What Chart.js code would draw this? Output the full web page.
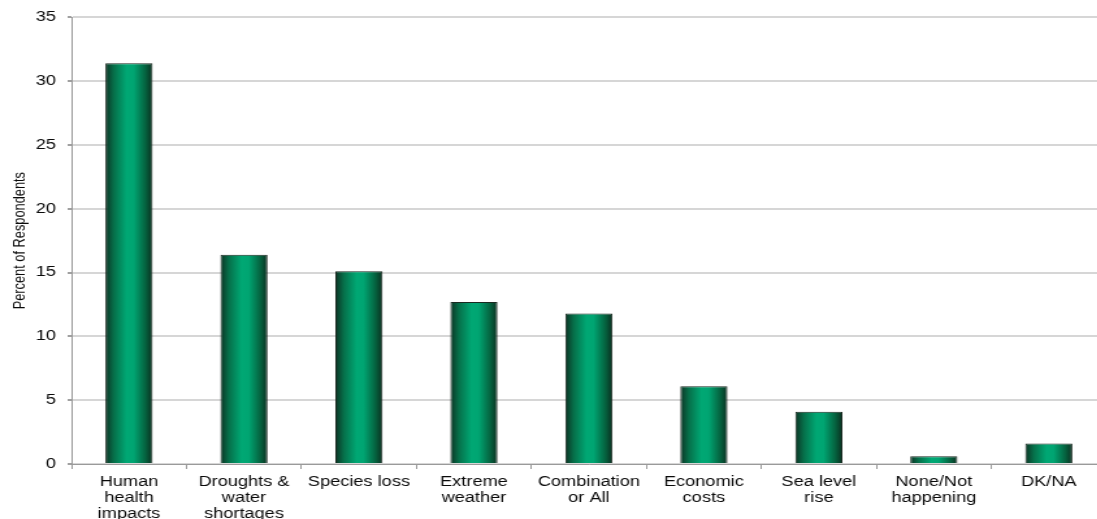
<!DOCTYPE html>
<html lang="en">
  <head>
    <meta charset="UTF-8" />
    <title>Most important impacts of climate change</title>
    <script src="https://cdn.jsdelivr.net/npm/chart.js@4.4.0/dist/chart.umd.min.js"></script>
    <style>
      html, body { margin: 0; padding: 0; background: #fff; overflow: hidden; }
      /* the chart is laid out narrower and widened to the page */
      #impactChart { transform: scaleX(1.3); transform-origin: 0 0; }
    </style>
  </head>
  <body>
<canvas id="impactChart" width="851" height="519"></canvas>

<script>
const categories = [
  ['Human', 'health', 'impacts'],
  ['Droughts &', 'water', 'shortages'],
  'Species loss',
  ['Extreme', 'weather'],
  ['Combination', 'or All'],
  ['Economic', 'costs'],
  ['Sea level', 'rise'],
  ['None/Not', 'happening'],
  'DK/NA'
];
const percents = [31.4, 16.4, 15.1, 12.7, 11.8, 6.1, 4.1, 0.6, 1.6];
const yTicks = [0, 5, 10, 15, 20, 25, 30, 35];

const BAR_PCT = 0.41;
const FONT = '"Liberation Sans", Arial, sans-serif';
const TEXT = '#0a0a0a';

// shaded cylinder look: dark edges, bright green middle
function barFill(context) {
  const chart = context.chart;
  const x = chart.scales && chart.scales.x;
  if (!x || context.dataIndex === undefined) return '#00a070';
  const centre = x.getPixelForValue(context.dataIndex);
  const half = (x.width / categories.length) * BAR_PCT / 2;
  if (!isFinite(centre) || !isFinite(half) || half <= 0) return '#00a070';
  const g = chart.ctx.createLinearGradient(centre - half, 0, centre + half, 0);
  g.addColorStop(0, '#0c3324');
  g.addColorStop(0.18, '#06704a');
  g.addColorStop(0.45, '#00a874');
  g.addColorStop(0.6, '#00a572');
  g.addColorStop(0.85, '#05623f');
  g.addColorStop(1, '#0b2f20');
  return g;
}

const ctx = document.getElementById('impactChart').getContext('2d');
const myChart = new Chart(ctx, {
  type: 'bar',
  data: {
    labels: categories,
    datasets: [{
      data: percents,
      backgroundColor: barFill,
      borderColor: '#1a2a21',
      borderWidth: 1,
      borderSkipped: 'bottom',
      barPercentage: BAR_PCT,
      categoryPercentage: 1
    }]
  },
  options: {
    responsive: false,
    animation: false,
    layout: { padding: { top: 17, right: 0, left: 0, bottom: 0 } },
    plugins: {
      legend: { display: false },
      tooltip: { enabled: false }
    },
    scales: {
      x: {
        offset: true,
        grid: {
          offset: true,
          drawOnChartArea: false,
          drawTicks: true,
          tickLength: 5,
          color: '#9a9a9a'
        },
        border: { color: '#9a9a9a', width: 1 },
        ticks: {
          autoSkip: false,
          maxRotation: 0,
          minRotation: 0,
          padding: 5,
          color: TEXT,
          font: { family: FONT, size: 14, lineHeight: '16px' }
        },
        afterFit: (scale) => { scale.height = 55; }
      },
      y: {
        min: 0,
        max: 35,
        afterBuildTicks: (scale) => { scale.ticks = yTicks.map(v => ({ value: v })); },
        grid: {
          color: '#d6d6d6',
          lineWidth: 2,
          tickLength: 3,
          tickColor: '#a0a0a0'
        },
        border: { color: '#9a9a9a', width: 1 },
        ticks: {
          padding: 9,
          color: TEXT,
          font: { family: FONT, size: 14 }
        },
        title: {
          display: true,
          text: 'Percent of Respondents',
          color: TEXT,
          padding: { top: 8, bottom: 0 },
          font: { family: FONT, size: 12.8 }
        },
        afterFit: (scale) => { scale.width = 55; }
      }
    }
  }
});
</script>
  </body>
</html>
